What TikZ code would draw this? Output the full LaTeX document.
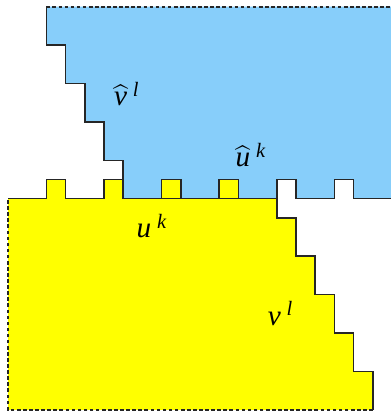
\documentclass[tikz,border=0pt]{standalone}
\usepackage{fontspec}
\setmainfont{Liberation Serif}
\usepackage{amsmath}
\usepackage{xcolor}
\definecolor{skyfill}{RGB}{135,206,250}
\definecolor{yelfill}{RGB}{255,255,0}

\begin{document}
\begin{tikzpicture}[x=0.3cm, y=0.3cm,
  edge/.style={line width=0.7pt, draw=black!85},
  cut/.style={edge, dashed, dash pattern=on 1.6pt off 1.1pt},
  lbl/.style={font=\fontsize{13}{15}\selectfont, inner sep=1pt}]
\useasboundingbox (-0.417,-11.06) rectangle (19.94,10.35);
% upper region
\fill[skyfill] (2,10) -- (2,8) -- (3,8) -- (3,6) -- (4,6) -- (4,4) -- (5,4) -- (5,2) -- (6,2) -- (6,0)
  -- (8,0) -- (8,1) -- (9,1) -- (9,0) -- (11,0) -- (11,1) -- (12,1) -- (12,0)
  -- (14,0) -- (14,1) -- (15,1) -- (15,0) -- (17,0) -- (17,1) -- (18,1) -- (18,0) -- (20,0) -- (20,10) -- cycle;
% lower region
\fill[yelfill] (0,0) -- (2,0) -- (2,1) -- (3,1) -- (3,0) -- (5,0) -- (5,1) -- (6,1) -- (6,0)
  -- (8,0) -- (8,1) -- (9,1) -- (9,0) -- (11,0) -- (11,1) -- (12,1) -- (12,0) -- (14,0)
  -- (14,-1) -- (15,-1) -- (15,-3) -- (16,-3) -- (16,-5) -- (17,-5) -- (17,-7) -- (18,-7) -- (18,-9) -- (19,-9) -- (19,-11)
  -- (0,-11) -- cycle;
% outlines
\draw[edge] (2,10) -- (2,8) -- (3,8) -- (3,6) -- (4,6) -- (4,4) -- (5,4) -- (5,2) -- (6,2) -- (6,0);
\draw[edge] (6,0) -- (14,0) -- (14,1) -- (15,1) -- (15,0) -- (17,0) -- (17,1) -- (18,1) -- (18,0) -- (20,0);
\draw[edge] (0,0) -- (2,0) -- (2,1) -- (3,1) -- (3,0) -- (5,0) -- (5,1) -- (6,1) -- (6,0)
  -- (8,0) -- (8,1) -- (9,1) -- (9,0) -- (11,0) -- (11,1) -- (12,1) -- (12,0) -- (14,0)
  -- (14,-1) -- (15,-1) -- (15,-3) -- (16,-3) -- (16,-5) -- (17,-5) -- (17,-7) -- (18,-7) -- (18,-9) -- (19,-9) -- (19,-11);
\draw[cut] (2,10) -- (20,10);
\draw[cut] (19,-11) -- (0,-11) -- (0,0);
% labels
\node[lbl] (vhat) at (6.2,5.45) {$\widehat{\mathit{v}}^{\;\mathit{l}}$};
\node[lbl] (uhat) at (12.66,2.27) {$\widehat{\mathit{u}}^{\;\mathit{k}}$};
\node[lbl] (uk) at (7.5,-1.43) {$\mathit{u}^{\;\mathit{k}}$};
\node[lbl] (vl) at (14.2,-6.0) {$\mathit{v}^{\;\mathit{l}}$};
\end{tikzpicture}
\end{document}
